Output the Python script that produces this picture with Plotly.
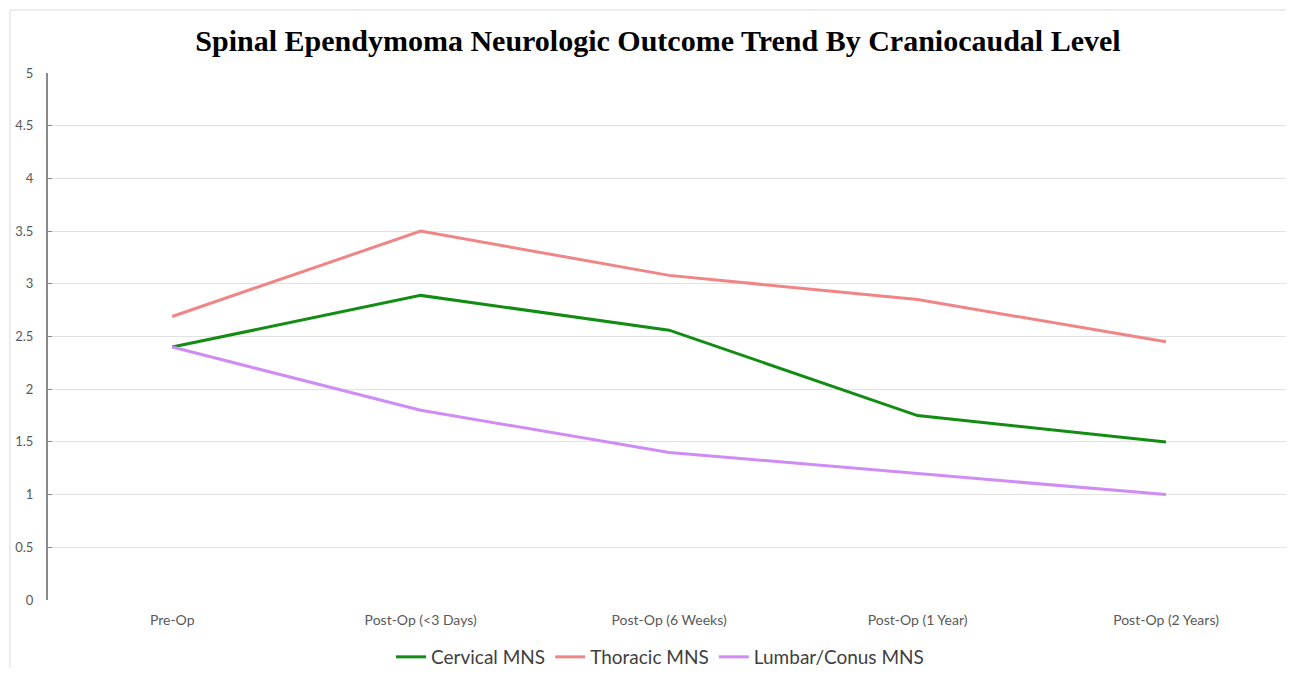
import plotly.graph_objects as go

categories = ["Pre-Op", "Post-Op (<3 Days)", "Post-Op (6 Weeks)", "Post-Op (1 Year)", "Post-Op (2 Years)"]
cervical = [2.40, 2.89, 2.56, 1.75, 1.50]
thoracic = [2.69, 3.50, 3.08, 2.85, 2.45]
lumbar = [2.40, 1.80, 1.40, 1.20, 1.00]
y_ticks = [0, 0.5, 1, 1.5, 2, 2.5, 3, 3.5, 4, 4.5, 5]

series = [
    ("Cervical MNS", cervical, "#128c12"),
    ("Thoracic MNS", thoracic, "#f08585"),
    ("Lumbar/Conus MNS", lumbar, "#d08cf5"),
]

fig = go.Figure()
for name, vals, col in series:
    fig.add_trace(go.Scatter(x=categories, y=vals, name=name, mode="lines",
                             line=dict(color=col, width=3)))

OFF = 8  # page body margin
W, H = 1294 - 2 * OFF, 676 - 2 * OFF
ml, mr, mt, mb = 48 - OFF, 0, 73 - OFF, H - (600 - OFF)
pw, ph = W - ml - mr, H - mt - mb

def px(xp):
    return (xp - OFF - ml) / pw

def py(yp):
    return 1 - (yp - OFF - mt) / ph

fig.update_layout(
    width=W, height=H,
    margin=dict(l=ml, r=mr, t=mt, b=mb, autoexpand=False),
    paper_bgcolor="white", plot_bgcolor="white",
    title=dict(text="<b>Spinal Ependymoma Neurologic Outcome Trend By Craniocaudal Level</b>",
               x=(658 - OFF) / W, xanchor="center", xref="container",
               y=1 - (40 - OFF) / H, yanchor="middle", yref="container",
               font=dict(family="Liberation Serif", size=30, color="#000000")),
    xaxis=dict(type="category", range=[-0.5, 4.483], showgrid=False, showline=False,
               ticks="", ticklabelstandoff=10,
               tickfont=dict(family="Lato", size=14, color="#595959")),
    yaxis=dict(range=[0, 5], tickvals=y_ticks, ticktext=[f"{v:g}" for v in y_ticks],
               showgrid=True, gridcolor="#e2e2e2", gridwidth=1,
               showline=True, linecolor="#8a8a8a", linewidth=2,
               ticks="inside", ticklen=4, tickcolor="#8a8a8a",
               zeroline=False, ticklabelstandoff=10,
               tickfont=dict(family="Lato", size=13, color="#595959")),
    legend=dict(orientation="h", x=px(660), xanchor="center", y=py(657), yanchor="middle",
                font=dict(family="Lato", size=19, color="#404040"),
                itemwidth=30, tracegroupgap=0),
    showlegend=True,
)

fig.add_shape(type="rect", xref="paper", yref="paper",
              x0=px(10), x1=px(1400), y0=py(800), y1=py(10),
              line=dict(color="#d9d9d9", width=1), fillcolor="rgba(0,0,0,0)", layer="below")

fig.write_html("out.html")
